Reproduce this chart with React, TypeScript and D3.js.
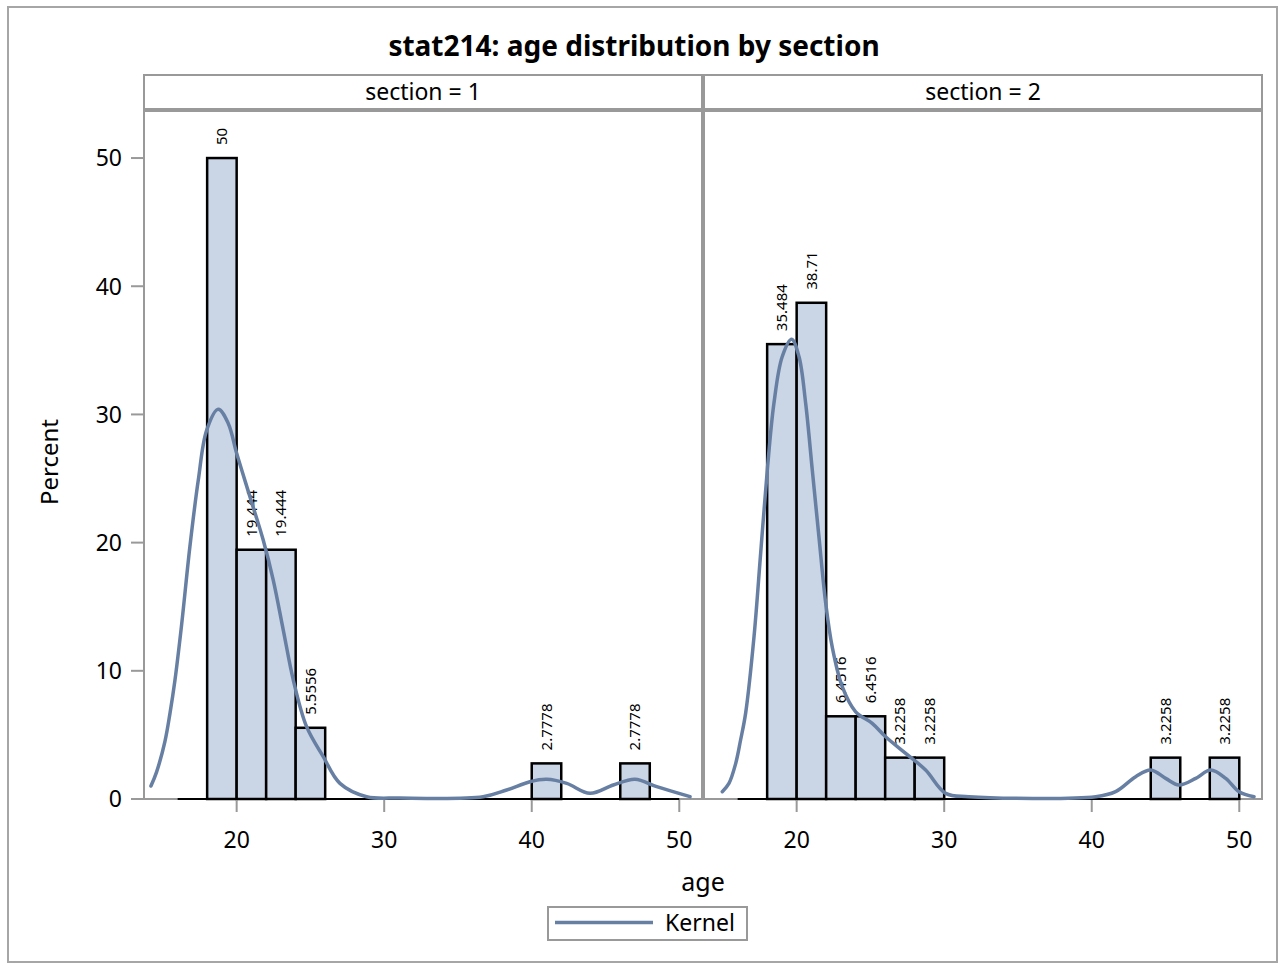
import React from 'react';
import * as d3 from 'd3';

// Histogram bins (2-year wide) and their percentages, per section
const binWidth = 2;
const binRange = [16, 50];
const binStarts1 = [18, 20, 22, 24, 40, 46];
const percents1 = [50, 19.444, 19.444, 5.5556, 2.7778, 2.7778];
const binStarts2 = [18, 20, 22, 24, 26, 28, 44, 48];
const percents2 = [35.484, 38.71, 6.4516, 6.4516, 3.2258, 3.2258, 3.2258, 3.2258];

// Kernel density curves (age, percent)
const kernelAge1 = [14.19, 14.57, 15.14, 15.48, 15.82, 16.27, 16.83, 17.4, 17.97, 18.75, 19.43, 20.0, 20.9, 21.8, 22.48, 23.16, 23.84, 24.74, 25.87, 27.0, 28.81, 31.07, 36.7, 38.3, 39.88, 41.01, 42.37, 43.95, 45.53, 47.0, 48.47, 50.73];
const kernelPct1 = [1.01, 2.1, 4.5, 6.68, 9.28, 13.6, 19.68, 24.88, 28.78, 30.4, 29.3, 26.97, 23.58, 20.2, 17.08, 13.18, 9.28, 5.64, 3.3, 1.22, 0.18, 0.08, 0.18, 0.7, 1.35, 1.54, 1.22, 0.44, 1.09, 1.54, 0.96, 0.18];
const kernelAge2 = [14.96, 15.41, 15.87, 16.2, 16.54, 17.11, 17.56, 18.01, 18.46, 19.02, 19.66, 20.16, 20.61, 21.06, 21.51, 21.97, 22.41, 23.09, 24.0, 25.12, 26.03, 27.39, 28.74, 30.1, 31.68, 40.27, 41.62, 42.98, 44.0, 45.01, 45.91, 47.05, 48.06, 49.08, 49.98, 51.0];
const kernelPct2 = [0.57, 1.22, 2.78, 4.6, 6.68, 12.66, 19.17, 25.66, 30.87, 34.5, 35.86, 34.5, 30.87, 25.66, 20.46, 15.26, 11.86, 8.76, 6.8, 5.9, 4.86, 3.56, 2.26, 0.44, 0.18, 0.18, 0.57, 1.74, 2.26, 1.61, 1.09, 1.61, 2.26, 1.61, 0.57, 0.18];

const sectionLabels = ['section = 1', 'section = 2'];
const xTicks = [20, 30, 40, 50];
const yTicks = [0, 10, 20, 30, 40, 50];

const panels = [
  { label: sectionLabels[0], starts: binStarts1, pcts: percents1, kAge: kernelAge1, kPct: kernelPct1 },
  { label: sectionLabels[1], starts: binStarts2, pcts: percents2, kAge: kernelAge2, kPct: kernelPct2 },
];

const W = 1285;
const H = 964;
const panelLefts = [144, 704];
const panelW = 558;
const stripTop = 75;
const stripBottom = 109;
const plotTop = 111;
const plotBottom = 799;

const FONT = '"Noto Sans", "Open Sans", sans-serif';
const GRID = '#999999';
const FILL = '#CAD5E5';
const FIT = '#667FA2';

const yScale = d3.scaleLinear().domain([0, 53.67]).range([plotBottom, plotTop]);

export default function App() {
  return (
    <svg width={W} height={H} style={{ position: 'absolute', left: 0, top: 0, background: '#fff' }} fontFamily={FONT}>
      <rect x={8} y={7} width={1269} height={955} fill="#fff" stroke="#a6a6a6" strokeWidth={2} />
      <text x={634} y={56} textAnchor="middle" fontWeight="bold" fontSize={28} fill="#000">
        stat214: age distribution by section
      </text>

      {panels.map((p, pi) => {
        const left = panelLefts[pi];
        const x = d3.scaleLinear().domain([13.72, 51.54]).range([left, left + panelW]);
        const line = d3
          .line<number>()
          .x((_, i) => x(p.kAge[i]))
          .y((_, i) => yScale(p.kPct[i]))
          .curve(d3.curveCatmullRom.alpha(0.5));
        return (
          <g key={pi}>
            {/* header strip */}
            <rect x={left} y={stripTop} width={panelW} height={stripBottom - stripTop} fill="#fff" stroke={GRID} strokeWidth={2} />
            <text x={left + panelW / 2} y={100} textAnchor="middle" fontSize={23} fill="#000">
              {p.label}
            </text>
            {/* plot area */}
            <rect x={left} y={plotTop} width={panelW} height={plotBottom - plotTop} fill="#fff" stroke={GRID} strokeWidth={2} />
            {/* zero baseline of histogram */}
            <line x1={x(binRange[0])} x2={x(binRange[1])} y1={yScale(0)} y2={yScale(0)} stroke="#000" strokeWidth={2} />
            {p.starts.map((s, i) => (
              <rect
                key={i}
                x={x(s)}
                y={yScale(p.pcts[i])}
                width={x(s + binWidth) - x(s)}
                height={yScale(0) - yScale(p.pcts[i])}
                fill={FILL}
                stroke="#000"
                strokeWidth={2.5}
              />
            ))}
            {p.starts.map((s, i) => {
              const cx = x(s + binWidth / 2);
              const ty = yScale(p.pcts[i]) - 13;
              return (
                <text
                  key={'l' + i}
                  transform={`translate(${cx},${ty}) rotate(-90)`}
                  dy="0.36em"
                  fontSize={15}
                  fill="#000"
                >
                  {String(p.pcts[i])}
                </text>
              );
            })}
            <path d={line(p.kAge) || ''} fill="none" stroke={FIT} strokeWidth={3.5} strokeLinejoin="round" strokeLinecap="round" />
            {/* x axis ticks */}
            {xTicks.map((t) => (
              <g key={t}>
                <line x1={x(t)} x2={x(t)} y1={plotBottom + 1} y2={plotBottom + 13} stroke={GRID} strokeWidth={2} />
                <text x={x(t)} y={848} textAnchor="middle" fontSize={23} fill="#000">
                  {t}
                </text>
              </g>
            ))}
          </g>
        );
      })}

      {/* y axis */}
      {yTicks.map((t) => (
        <g key={t}>
          <line x1={131} x2={143} y1={yScale(t)} y2={yScale(t)} stroke={GRID} strokeWidth={2} />
          <text x={122} y={yScale(t)} dy="0.36em" textAnchor="end" fontSize={23} fill="#000">
            {t}
          </text>
        </g>
      ))}
      <text transform="translate(58,462) rotate(-90)" textAnchor="middle" fontSize={24} fill="#000">
        Percent
      </text>
      <text x={703} y={891} textAnchor="middle" fontSize={25} fill="#000">
        age
      </text>

      {/* legend */}
      <rect x={548} y={907} width={199} height={33} fill="#fff" stroke={GRID} strokeWidth={2} />
      <line x1={555} x2={653} y1={922.5} y2={922.5} stroke={FIT} strokeWidth={3.5} />
      <text x={665} y={931} fontSize={23} fill="#000">
        Kernel
      </text>
    </svg>
  );
}
